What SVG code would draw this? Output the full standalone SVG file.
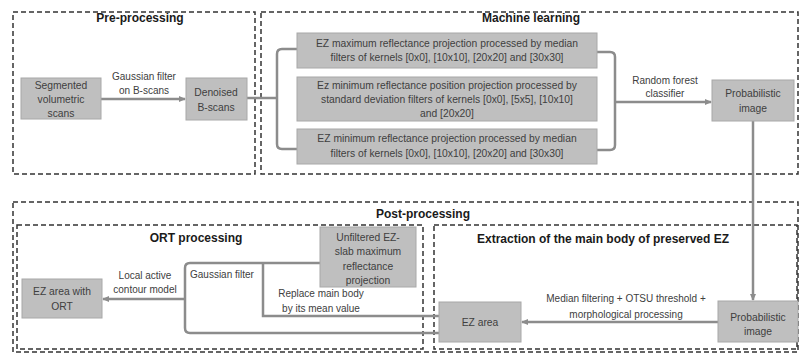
<svg xmlns="http://www.w3.org/2000/svg" width="802" height="356" viewBox="0 0 802 356">
<style>
.frame{fill:none;stroke:#333;stroke-width:1.5;stroke-dasharray:5 3}
.box{fill:#bfbfbf;stroke:#a8a8a8;stroke-width:1}
.ln{fill:none;stroke:#8c8c8c;stroke-width:2.5}
.t{font-family:"Liberation Sans",Arial,sans-serif;font-size:10.3px;fill:#404040;text-anchor:middle}
.s{font-family:"Liberation Sans",Arial,sans-serif;font-size:10px;fill:#404040;text-anchor:middle}
.h{font-family:"Liberation Sans",Arial,sans-serif;font-size:12px;font-weight:bold;fill:#1a1a1a;text-anchor:middle}
</style>
<defs>
<marker id="ah" markerWidth="8" markerHeight="8" refX="6" refY="4" orient="auto" markerUnits="userSpaceOnUse">
<path d="M0,1 L7,4 L0,7 Z" fill="#8c8c8c"/>
</marker>
</defs>
<rect width="802" height="356" fill="#fff"/>

<g id="frames">
<rect class="frame" x="13" y="12" width="242" height="162"/>
<text class="h" x="140" y="22">Pre-processing</text>
<rect class="frame" x="261" y="12" width="537" height="162"/>
<text class="h" x="531" y="22">Machine learning</text>
<rect class="frame" x="13" y="202" width="785" height="150"/>
<text class="h" x="423" y="218">Post-processing</text>
<rect class="frame" x="17" y="225" width="406" height="124"/>
<text class="h" x="196" y="242">ORT processing</text>
<rect class="frame" x="434" y="225" width="363" height="124"/>
<text class="h" x="603" y="243">Extraction of the main body of preserved EZ</text>
</g>

<g id="connectors">
<line class="ln" x1="101" y1="99" x2="185" y2="99" marker-end="url(#ah)"/>
<path class="ln" d="M247,98 H277"/>
<path class="ln" d="M297,49 H282 Q277,49 277,54 V144 Q277,149 282,149 H297"/>
<path class="ln" d="M597,52 H610 Q615,52 615,57 V145 Q615,150 610,150 H597"/>
<line class="ln" x1="615" y1="102" x2="711" y2="102" marker-end="url(#ah)"/>
<line class="ln" x1="753" y1="121" x2="753" y2="300" marker-end="url(#ah)"/>
<line class="ln" x1="718" y1="322" x2="522" y2="322" marker-end="url(#ah)"/>
<path class="ln" d="M439,333 H190 Q185,333 185,328 V268 Q185,263 190,263 H320"/>
<path class="ln" d="M263,263 V316 H439"/>
<line class="ln" x1="185" y1="299" x2="103" y2="299" marker-end="url(#ah)"/>
</g>

<g id="label-gauss-b">
<text class="s" x="144" y="80">Gaussian filter</text>
<text class="s" x="144" y="94">on B-scans</text>
</g>
<g id="label-rf">
<text class="s" x="665" y="84">Random forest</text>
<text class="s" x="665" y="97">classifier</text>
</g>
<g id="label-median">
<text class="s" x="626" y="302">Median filtering + OTSU threshold +</text>
<text class="s" x="626" y="318">morphological processing</text>
</g>
<g id="label-lac">
<text class="s" x="145" y="279">Local active</text>
<text class="s" x="145" y="293">contour model</text>
</g>
<g id="label-gf">
<text class="s" x="190" y="278" style="text-anchor:start">Gaussian filter</text>
</g>
<g id="label-replace">
<text class="s" x="321" y="297">Replace main body</text>
<text class="s" x="321" y="312">by its mean value</text>
</g>

<g id="segmented">
<rect class="box" x="21" y="78" width="80" height="41"/>
<text class="t" x="61" y="89">Segmented</text>
<text class="t" x="61" y="103">volumetric</text>
<text class="t" x="61" y="117">scans</text>
</g>
<g id="denoised">
<rect class="box" x="186" y="78" width="61" height="42"/>
<text class="t" x="216" y="96">Denoised</text>
<text class="t" x="216" y="111">B-scans</text>
</g>
<g id="ml1">
<rect class="box" x="297" y="33" width="300" height="35"/>
<text class="t" x="447" y="47">EZ maximum reflectance projection processed by median</text>
<text class="t" x="447" y="61">filters of kernels [0x0], [10x10], [20x20] and [30x30]</text>
</g>
<g id="ml2">
<rect class="box" x="297" y="77" width="300" height="44"/>
<text class="t" x="447" y="89">Ez minimum reflectance position projection processed by</text>
<text class="t" x="447" y="103">standard deviation filters of kernels [0x0], [5x5], [10x10]</text>
<text class="t" x="447" y="117">and [20x20]</text>
</g>
<g id="ml3">
<rect class="box" x="297" y="129" width="300" height="35"/>
<text class="t" x="447" y="142">EZ minimum reflectance projection processed by median</text>
<text class="t" x="447" y="157">filters of kernels [0x0], [10x10], [20x20] and [30x30]</text>
</g>
<g id="prob1">
<rect class="box" x="712" y="80" width="82" height="41"/>
<text class="t" x="753" y="97">Probabilistic</text>
<text class="t" x="753" y="112">image</text>
</g>
<g id="prob2">
<rect class="box" x="718" y="301" width="80" height="41"/>
<text class="t" x="758" y="321">Probabilistic</text>
<text class="t" x="758" y="335">image</text>
</g>
<g id="ezarea">
<rect class="box" x="439" y="302" width="82" height="40"/>
<text class="t" x="480" y="326">EZ area</text>
</g>
<g id="unfiltered">
<rect class="box" x="320" y="227" width="96" height="60"/>
<text class="t" x="368" y="241">Unfiltered EZ-</text>
<text class="t" x="368" y="255">slab maximum</text>
<text class="t" x="368" y="270">reflectance</text>
<text class="t" x="368" y="284">projection</text>
</g>
<g id="ezort">
<rect class="box" x="22" y="279" width="80" height="39"/>
<text class="t" x="62" y="295">EZ area with</text>
<text class="t" x="62" y="310">ORT</text>
</g>
</svg>
